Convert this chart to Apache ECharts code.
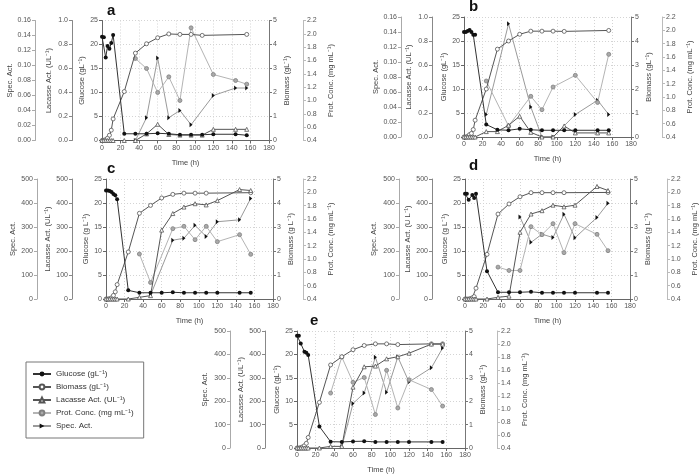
<!DOCTYPE html>
<html><head><meta charset="utf-8">
<script src="https://cdn.jsdelivr.net/npm/echarts@6/dist/echarts.min.js"></script>
<style>html,body{margin:0;padding:0;background:#fff}#c{width:700px;height:475px}</style>
</head><body><div id="c"></div>
<script>
// ---- data (time in h) ----
const T = [0,2,4,6,8,10,12,24,36,48,60,72,84,96,108,120,144,156];
const panelLetters = ['a','b','c','d','e'];
const seriesNames = ['Glucose (gL\u207B\u00B9)','Biomass (gL\u207B\u00B9)','Lacasse Act. (UL\u207B\u00B9)','Prot. Conc. (mg mL\u207B\u00B9)','Spec. Act.'];

const aGlucose = [21.6,21.5,17.3,19.7,19.1,20.3,22.0,1.4,1.4,1.4,1.5,1.4,1.2,1.2,1.2,1.3,1.3,1.1];
const aBiomass = [0,0.01,0.04,0.1,0.22,0.43,0.9,2.04,3.64,4.03,4.28,4.44,4.42,4.42,4.38,null,null,4.42];
const aLacasse = [0,0,0,0,0,0,0,0,0,0.055,0.135,0.05,0.045,0.045,0.045,0.093,0.093,0.093];
const aProt    = [null,null,null,null,null,null,null,null,1.63,1.48,1.12,1.355,1.0,2.09,null,1.39,1.30,1.245];
const aSpec    = [null,null,null,null,null,null,null,null,0,0.0305,0.110,0.0305,0.040,0.021,null,0.060,0.070,0.070];

const bGlucose = [21.9,21.9,22.1,22.3,21.9,21.3,21.3,2.6,1.5,1.4,1.7,1.5,1.4,1.4,1.4,1.4,1.4,1.4];
const bBiomass = [0,0,0.03,0.1,0.15,0.31,0.7,2.0,3.66,4.0,4.28,4.41,4.41,4.41,4.4,null,null,4.44];
const bLacasse = [0,0,0,0,0,0,0,0.045,0.045,0.098,0.173,0.039,0,0,0.092,0.034,0.034,0.034];
const bProt    = [null,null,null,null,null,null,null,1.24,null,0.566,null,1.01,0.81,1.15,null,1.325,0.918,1.64];
const bSpec    = [null,null,null,null,null,null,null,0.030,null,0.151,null,0.040,0,0,null,0.030,0.049,0.030];

const cGlucose = [22.6,22.6,22.5,22.3,21.9,21.6,20.8,1.8,1.3,1.3,1.3,1.4,1.3,1.3,1.3,1.3,1.3,1.3];
const cBiomass = [0,0,0.02,0.05,0.15,0.3,0.6,1.96,3.57,3.9,4.21,4.36,4.41,4.41,4.41,null,null,4.43];
const cLacasse = [0,0,0,0,0,0,0,0,7,14,287,356,383,397,392,410,456,452];
const cProt    = [null,null,null,null,null,null,null,null,1.075,0.648,null,1.455,1.49,1.29,1.49,1.26,1.365,1.07];
const cSpec    = [null,null,null,null,null,null,null,null,null,16,null,245,253,307,260,322,330,419];

const dGlucose = [21.95,21.95,20.7,null,21.65,21.05,21.95,5.8,1.4,1.4,1.4,1.5,1.3,1.3,1.3,1.3,1.3,1.3];
const dBiomass = [0,0,0,0.02,0.05,0.1,0.45,1.86,3.54,3.96,4.26,4.43,4.43,4.43,4.43,null,null,4.44];
const dLacasse = [0,0,0,0,0,0,0,0,7,12,278,354,368,391,384,391,469,452];
const dProt    = [null,null,null,null,null,null,null,null,0.878,0.828,0.828,1.485,1.365,1.53,1.095,1.53,1.37,1.125];
const dSpec    = [null,null,null,null,null,null,null,null,null,null,342,236,270,256,353,255,340,399];

const eGlucose = [24.0,24.0,22.35,null,20.55,20.35,19.85,4.6,1.35,1.3,1.4,1.45,1.3,1.3,1.3,1.3,1.3,1.3];
const eBiomass = [0,0,0.02,0.05,0.1,0.2,0.45,1.95,3.55,3.9,4.2,4.38,4.45,4.45,4.42,null,4.45,4.45];
const eLacasse = [0,0,0,0,0,0,0,0,7,7,260,347,350,381,390,405,444,444];
const eProt    = [null,null,null,null,null,null,null,null,1.245,1.80,1.41,1.485,0.915,1.595,1.015,1.45,1.30,1.045];
const eSpec    = [null,null,null,null,null,null,null,null,null,5,190,235,388,238,389,282,343,427];

const xTicks = {min:0, max:180, interval:20};
const glucoseTicks = {min:0, max:25, interval:5};
const biomassTicks = {min:0, max:5, interval:1};
const protTicks = {min:0.4, max:2.2, interval:0.2};
const smallLacTicks = {min:0, max:1.0, interval:0.2};
const smallSpecTicks = {min:0, max:0.16, interval:0.02};
const bigTicks = {min:0, max:500, interval:100};

const panelData = {
  a:[aGlucose,aBiomass,aLacasse,aProt,aSpec],
  b:[bGlucose,bBiomass,bLacasse,bProt,bSpec],
  c:[cGlucose,cBiomass,cLacasse,cProt,cSpec],
  d:[dGlucose,dBiomass,dLacasse,dProt,dSpec],
  e:[eGlucose,eBiomass,eLacasse,eProt,eSpec]
};

// ---- layout / style ----
const sup = '\u207B\u00B9';
const layout = {
  a:{left:102, top:20.5, width:167, height:120, lacOff:30, specOff:67, protOff:34, small:true, specGap:18,
     gName:'Glucose (gL'+sup+')', lName:'Lacasse Act. (UL'+sup+')', bName:'Biomass (gL'+sup+')', title:[107,3]},
  b:{left:464, top:17, width:167, height:120, lacOff:32, specOff:63, protOff:31, small:true, specGap:21,
     gName:'Glucose (gL'+sup+')', lName:'Lacasse Act. (UL'+sup+')', bName:'Biomass (gL'+sup+')', title:[469,-1]},
  c:{left:106, top:179, width:167, height:120, lacOff:34, specOff:69, protOff:30, small:false, specGap:20,
     gName:'Glucose (g L'+sup+')', lName:'Lacasse Act. (UL'+sup+')', bName:'Biomass (g L'+sup+')', title:[107,161]},
  d:{left:465, top:179, width:167, height:120, lacOff:33, specOff:66, protOff:37, small:false, specGap:21,
     gName:'Glucose (g L'+sup+')', lName:'Lacasse Act. (U L'+sup+')', bName:'Biomass (g L'+sup+')', title:[469,158]},
  e:{left:297, top:331, width:168, height:119, lacOff:32, specOff:67, protOff:32, small:false, specGap:21,
     gName:'Glucose (gL'+sup+')', lName:'Lacasse Act. (UL'+sup+')', bName:'Biomass (gL'+sup+')', title:[310,313]}
};
const FONT = '"Liberation Sans", Arial, sans-serif';
const tickFont = 7, nameFont = 7.5;
const sStyles = [
  {symbol:'circle', symbolSize:4, itemStyle:{color:'#111'}, lineStyle:{color:'#333', width:1}},
  {symbol:'circle', symbolSize:4, itemStyle:{color:'#fff', borderColor:'#555', borderWidth:0.8}, lineStyle:{color:'#555', width:1}},
  {symbol:'triangle', symbolSize:4, itemStyle:{color:'#fff', borderColor:'#555', borderWidth:0.8}, lineStyle:{color:'#555', width:1}},
  {symbol:'circle', symbolSize:4, itemStyle:{color:'#aaa', borderColor:'#808080', borderWidth:0.8}, lineStyle:{color:'#b4b4b4', width:1}},
  {symbol:'path://M0,0L10,6L0,12Z', symbolSize:[3,5], itemStyle:{color:'#111'}, lineStyle:{color:'#9a9a9a', width:1}}
];

function yAx(gi, pos, off, ticks, name, gap, fmt, lineColor, split) {
  return Object.assign({
    type:'value', gridIndex:gi, position:pos, offset:off,
    name:name, nameLocation:'middle', nameRotate:90, nameGap:gap,
    nameTextStyle:{fontSize:nameFont, color:'#444', fontFamily:FONT},
    axisLine:{show:true, onZero:false, lineStyle:{color:lineColor, width:1}},
    axisTick:{show:true, length:3, lineStyle:{color:lineColor}},
    axisLabel:{fontSize:tickFont, color:'#555', fontFamily:FONT, margin:4, formatter:fmt},
    splitLine:{show:!!split, lineStyle:{color:'#d4d4d4', type:[1,2], width:1}}
  }, ticks);
}

const grids=[], xAxes=[], yAxes=[], series=[], titles=[];
panelLetters.forEach((p, gi) => {
  const L = layout[p];
  grids.push({left:L.left, top:L.top, width:L.width, height:L.height});
  titles.push({text:p, left:L.title[0], top:L.title[1], padding:0, textStyle:{fontSize:15, fontWeight:'bold', color:'#111', fontFamily:FONT}});
  xAxes.push(Object.assign({
    type:'value', gridIndex:gi, name:'Time (h)', nameLocation:'middle', nameGap:18,
    nameTextStyle:{fontSize:nameFont, color:'#444', fontFamily:FONT},
    axisLine:{show:true, onZero:false, lineStyle:{color:'#666'}},
    axisTick:{show:true, length:3, lineStyle:{color:'#666'}},
    axisLabel:{fontSize:tickFont, color:'#555', fontFamily:FONT, margin:4},
    splitLine:{show:true, lineStyle:{color:'#d4d4d4', type:[1,2], width:1}}
  }, xTicks));
  const lacTicks = L.small ? smallLacTicks : bigTicks;
  const specTicks = L.small ? smallSpecTicks : bigTicks;
  const lacFmt = L.small ? (v=>v.toFixed(1)) : (v=>String(Math.round(v)));
  const specFmt = L.small ? (v=>v.toFixed(2)) : (v=>String(Math.round(v)));
  yAxes.push(yAx(gi,'left',0,glucoseTicks,L.gName,14,v=>String(v),'#666',true));
  yAxes.push(yAx(gi,'left',L.lacOff,lacTicks,L.lName,19,lacFmt,'#888',false));
  yAxes.push(yAx(gi,'left',L.specOff,specTicks,'Spec. Act.',L.specGap,specFmt,'#aaa',false));
  yAxes.push(yAx(gi,'right',0,biomassTicks,L.bName,14,v=>String(v),'#777',false));
  yAxes.push(yAx(gi,'right',L.protOff,protTicks,'Prot. Conc. (mg mL'+sup+')',24,v=>v.toFixed(1),'#bbb',false));
  const axisFor = [0,3,1,4,2]; // series order: glucose, biomass, lacasse, prot, spec
  const z = [5,3,4,2,1];
  panelData[p].forEach((vals, k) => {
    const data = [];
    T.forEach((t,i)=>{ if (vals[i] !== null) data.push([t, vals[i]]); });
    series.push(Object.assign({
      type:'line', name:seriesNames[k], xAxisIndex:gi, yAxisIndex:gi*5+axisFor[k],
      data:data, z:z[k], animation:false, emphasis:{disabled:true}
    }, JSON.parse(JSON.stringify(sStyles[k]))));
  });
});

const chart = echarts.init(document.getElementById('c'), null, {renderer:'canvas'});
chart.setOption({
  backgroundColor:'#fff',
  animation:false,
  title:titles,
  grid:grids, xAxis:xAxes, yAxis:yAxes, series:series,
  legend:{
    data:seriesNames, orient:'vertical', left:26, top:362,
    itemWidth:18, itemHeight:6, itemGap:5,
    padding:[8,10,8,6],
    borderColor:'#777', borderWidth:1,
    textStyle:{fontSize:8, color:'#333', fontFamily:FONT},
    selectedMode:false
  }
});
</script>
</body></html>
